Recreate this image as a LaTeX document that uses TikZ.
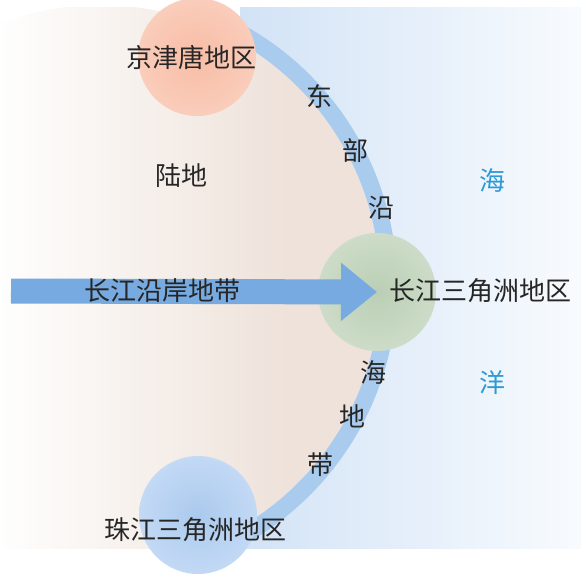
\documentclass[tikz,border=0pt]{standalone}
\usepackage{fontspec}
\newfontfamily\cjk{Noto Sans CJK SC}
\usepackage{tikz}
\usetikzlibrary{arrows.meta}
\definecolor{seac}{RGB}{210,227,246}
\definecolor{seaw}{RGB}{248,251,254}
\definecolor{landc}{RGB}{238,226,218}
\definecolor{beltc}{RGB}{168,203,238}
\definecolor{arrowc}{RGB}{118,170,224}
\definecolor{txtc}{RGB}{38,38,38}
\definecolor{oceanc}{RGB}{44,154,213}
\pgfdeclareradialshading{jjtball}{\pgfpoint{0bp}{0bp}}{rgb(0bp)=(0.97,0.74,0.65); rgb(24bp)=(0.98,0.80,0.73); rgb(38bp)=(0.99,0.89,0.85); rgb(46bp)=(1,0.96,0.95); rgb(50bp)=(1,1,1)}
\pgfdeclareradialshading{yrdball}{\pgfpoint{0bp}{0bp}}{rgb(0bp)=(0.73,0.81,0.71); rgb(24bp)=(0.80,0.86,0.78); rgb(38bp)=(0.89,0.93,0.88); rgb(46bp)=(0.96,0.97,0.96); rgb(50bp)=(1,1,1)}
\pgfdeclareradialshading{prdball}{\pgfpoint{0bp}{0bp}}{rgb(0bp)=(0.67,0.79,0.93); rgb(24bp)=(0.76,0.85,0.96); rgb(38bp)=(0.88,0.93,0.98); rgb(46bp)=(0.96,0.98,1); rgb(50bp)=(1,1,1)}
\tikzset{lbl/.style={font=\cjk\fontsize{26}{30}\selectfont, text=txtc, inner sep=0pt},
  ball/.style={circle, shade, minimum size=118pt, inner sep=0pt}}

\begin{document}
\begin{tikzpicture}[x=1pt, y=-1pt]
\useasboundingbox (0,0) rectangle (581,578);
% sea
\shade[left color=seac, right color=seaw] (240,8) rectangle (581,548);
% land
\begin{scope}
\clip (0,8) rectangle (581,548);
\clip (100,285) circle (280pt);
\shade[left color=white, right color=landc] (-10,0) rectangle (290,578);
\fill[landc] (289,0) rectangle (400,578);
\end{scope}
% coast belt
\begin{scope}
\clip (232,8) rectangle (581,548);
\draw[beltc, line width=17pt] (100,285) circle (288.5pt);
\end{scope}

\node[ball, shading=jjtball] (jjt) at (197,57) {};
\node[ball, shading=yrdball] (yrd) at (377,292) {};
\node[ball, shading=prdball] (prd) at (198,515) {};

\coordinate (river) at (11,291);
\draw[arrowc, line width=25pt, -{Triangle[length=36pt,width=56pt]}] (river) -- (yrd.center);

\node[lbl] (river-lbl) at (162,291) {长江沿岸地带};
\node[lbl] (jjt-lbl) at (191,58) {京津唐地区};
\node[lbl] (yrd-lbl) at (480,291) {长江三角洲地区};
\node[lbl] (prd-lbl) at (195,530) {珠江三角洲地区};
\node[lbl] (land) at (181,176) {陆地};

\node[lbl] (coast-1) at (319,96) {东};
\node[lbl] (coast-2) at (355,151) {部};
\node[lbl] (coast-3) at (381,208) {沿};
\node[lbl] (coast-4) at (373,373) {海};
\node[lbl] (coast-5) at (352,416) {地};
\node[lbl] (coast-6) at (320,465) {带};

\node[lbl, text=oceanc] (ocean-1) at (492,181) {海};
\node[lbl, text=oceanc] (ocean-2) at (492,383) {洋};
\end{tikzpicture}
\end{document}
